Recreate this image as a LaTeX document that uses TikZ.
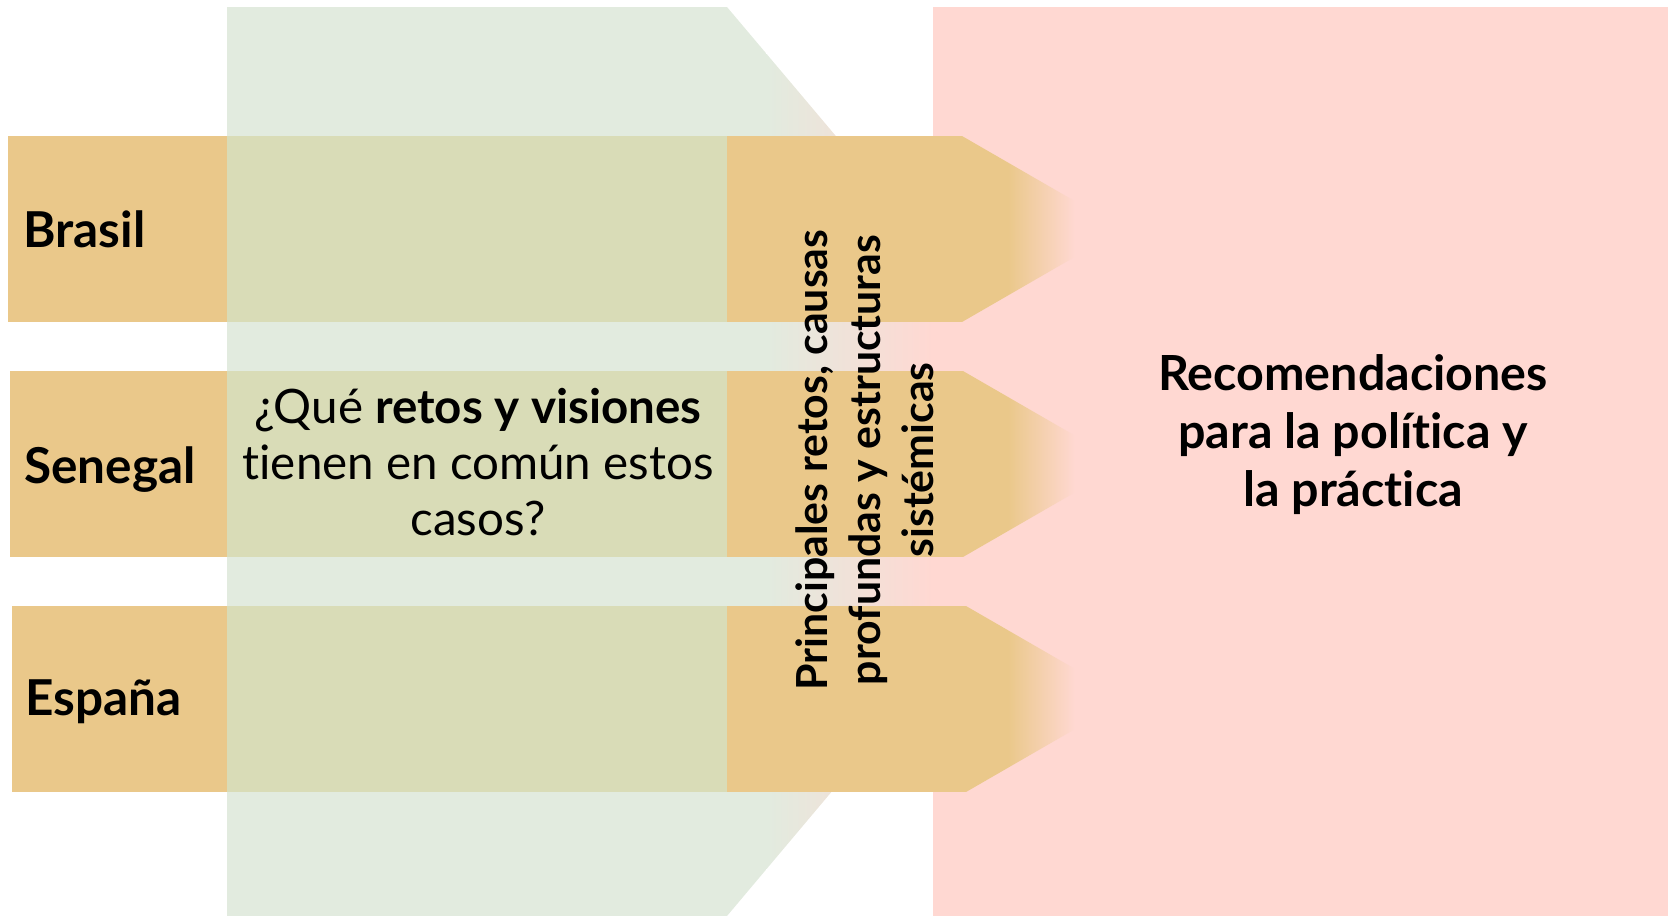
\documentclass[tikz,border=0pt]{standalone}
\usepackage{fontspec}
\setmainfont{Lato}[Ligatures=NoCommon]
\definecolor{orng}{HTML}{EAC88A}
\definecolor{grn}{HTML}{E2EBDF}
\definecolor{pnk}{HTML}{FFD8D2}
\definecolor{ovl}{HTML}{D9DCB7}
\tikzset{
  country/.style={anchor=base west, inner sep=0pt, font=\fontsize{49.5}{58}\selectfont\bfseries},
  bigtext/.style={align=center, inner sep=0pt},
}
\begin{document}
\begin{tikzpicture}[x=1pt,y=-1pt]
\useasboundingbox (0,0) rectangle (1668,916);
% green chevron fading into pink
\begin{scope}
  \clip (227,7) -- (727,7) -- (1110,461) -- (727,916) -- (227,916) -- cycle;
  \fill[grn] (227,0) rectangle (767,916);
  \shade[left color=grn,right color=pnk] (767,0) rectangle (933,916);
  \fill[pnk] (933,0) rectangle (1200,916);
\end{scope}
% pink panel
\fill[pnk] (933,7) rectangle (1668,916);
% orange arrows
\foreach \t/\b/\l/\r in {136/322/8/962, 371/557/10/963, 606/792/12/966}{
  \pgfmathsetmacro\c{(\t+\b)/2}
  \pgfmathsetmacro\tip{\r+(\b-\t)/2*1.732}
  \begin{scope}
    \clip (\l,\t) -- (\r,\t) -- (\tip,\c) -- (\r,\b) -- (\l,\b) -- cycle;
    \fill[orng] (\l,\t) rectangle (1008,\b);
    \shade[left color=orng,right color=pnk] (1008,\t) rectangle (1075,\b);
  \end{scope}
  \fill[ovl] (227,\t) rectangle (727,\b);
}
% labels
\node[country] (brasil) at (23,247) {Brasil};
\node[country] (senegal) at (24,483) {Senegal};
\node[country] (espana) at (25,715) {España};
\node[bigtext, font=\fontsize{47.5}{56}\selectfont] (pregunta) at (478,462)
  {¿Qué \textbf{retos y visiones}\\tienen en común estos\\casos?};
\node[bigtext, rotate=90, font=\fontsize{42.8}{53}\selectfont\bfseries] (retos) at (865,460)
  {Principales retos, causas\\profundas y estructuras\\sistémicas};
\node[bigtext, font=\fontsize{48.4}{58}\selectfont\bfseries] (recom) at (1353,435)
  {Recomendaciones\\para la política y\\la práctica};
\end{tikzpicture}
\end{document}
